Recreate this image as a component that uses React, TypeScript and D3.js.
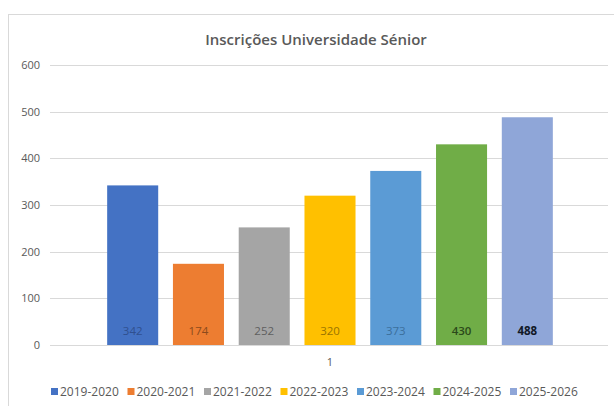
import { useRef, useEffect } from 'react';
import * as d3 from 'd3';

const seasons = ['2019-2020', '2020-2021', '2021-2022', '2022-2023', '2023-2024', '2024-2025', '2025-2026'];
const enrolments = [342, 174, 252, 320, 373, 430, 488];
const barColors = ['#4472C4', '#ED7D31', '#A5A5A5', '#FFC000', '#5B9BD5', '#70AD47', '#8FA6D8'];
const labelColors = ['#30508f', '#8c4a1c', '#5f5f5f', '#9a7400', '#3b6f9c', '#2b4a1a', '#111827'];
const yTicks = [0, 100, 200, 300, 400, 500, 600];
const categories = ['1'];

export default function App() {
  const svgRef = useRef<SVGSVGElement>(null);
  const width = 614;
  const height = 406;

  useEffect(() => {
    const svg = d3.select(svgRef.current);
    svg.selectAll('*').remove();

    const font = '"Open Sans", "Liberation Sans", sans-serif';
    const plot = { left: 51, right: 609, top: 65, bottom: 345 };

    // chart frame
    svg.append('rect').attr('x', 8.5).attr('y', 14.5).attr('width', 620).attr('height', 400)
      .attr('fill', '#fff').attr('stroke', '#d9d9d9');

    svg.append('text').attr('x', 316).attr('y', 45)
      .attr('text-anchor', 'middle').attr('fill', '#595959')
      .attr('font-family', font).attr('font-size', 15).attr('font-weight', 600)
      .text('Inscrições Universidade Sénior');

    const y = d3.scaleLinear().domain([0, 600]).range([plot.bottom, plot.top]);
    const x0 = d3.scaleBand().domain(categories).range([plot.left, plot.right])
      .paddingInner(0).paddingOuter(0.106);
    const x1 = d3.scaleBand().domain(seasons).range([0, x0.bandwidth()])
      .paddingInner(0.224).paddingOuter(0.112);

    // gridlines + tick labels
    yTicks.forEach(t => {
      svg.append('line').attr('x1', plot.left - 1).attr('x2', plot.right - 1)
        .attr('y1', Math.round(y(t)) + 0.5).attr('y2', Math.round(y(t)) + 0.5)
        .attr('stroke', '#d9d9d9').attr('stroke-width', 1);
      svg.append('text').attr('x', 40).attr('y', y(t) + 4)
        .attr('text-anchor', 'end').attr('fill', '#595959')
        .attr('font-family', font).attr('font-size', 11).text(t);
    });

    const g = svg.append('g').attr('transform', `translate(${x0('1')},0)`);
    seasons.forEach((s, i) => {
      const v = enrolments[i];
      g.append('rect').attr('x', x1(s)!).attr('y', y(v))
        .attr('width', x1.bandwidth()).attr('height', y(0) - y(v))
        .attr('fill', barColors[i]);
      g.append('text').attr('x', x1(s)! + x1.bandwidth() / 2).attr('y', y(0) - 10)
        .attr('text-anchor', 'middle').attr('fill', labelColors[i])
        .attr('font-family', font).attr('font-size', 11.5)
        .attr('font-weight', i === 6 ? 700 : i === 5 ? 600 : 400)
        .text(v);
    });

    // category label
    svg.append('text').attr('x', x0('1')! + x0.bandwidth() / 2).attr('y', 366)
      .attr('text-anchor', 'middle').attr('fill', '#595959')
      .attr('font-family', font).attr('font-size', 11).text(categories[0]);

    // legend
    const itemW = 76.5;
    const legendLeft = 51;
    seasons.forEach((s, i) => {
      const lx = legendLeft + i * itemW;
      svg.append('rect').attr('x', lx).attr('y', 388).attr('width', 7).attr('height', 7)
        .attr('fill', barColors[i]);
      svg.append('text').attr('x', lx + 9).attr('y', 396)
        .attr('fill', '#595959').attr('font-family', font).attr('font-size', 12)
        .text(s);
    });
  }, []);

  return (
    <svg ref={svgRef} width={width} height={height}
      style={{ position: 'absolute', left: 0, top: 0, display: 'block', background: '#fff' }} />
  );
}
